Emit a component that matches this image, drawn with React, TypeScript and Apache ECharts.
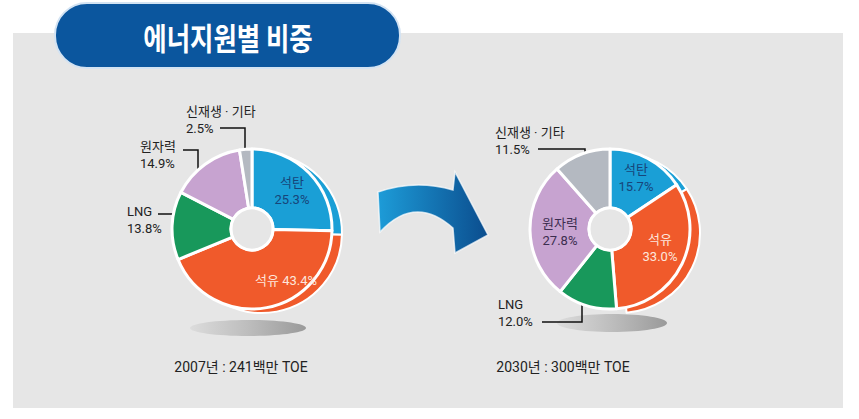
import React, { useEffect, useRef } from 'react';
import * as echarts from 'echarts';

// ---- data ----
const categories = ['석탄', '석유', 'LNG', '원자력', '신재생 · 기타'];
const share2007 = [25.3, 43.4, 13.8, 14.9, 2.5];
const share2030 = [15.7, 33.0, 12.0, 27.8, 11.5];
const titleText = '에너지원별 비중';
const captions = ['2007년 : 241백만 TOE', '2030년 : 300백만 TOE'];

// ---- styles / layout ----
const sliceColors = ['#1a9fd6', '#f05a2b', '#18985b', '#c7a3d0', '#b4b9c1'];
const BG = '#e6e6e6';
const FONT = 'Roboto, "Noto Sans CJK KR", sans-serif';
const R = 80;
const HOLE = 21;
const leftCenter = [252, 229];
const rightCenter = [610, 229];
const extrude = [10, 4];

type Pos = { x: number; y: number; align: string; line?: number[][] };
const leftLabels: Pos[] = [
  { x: 292, y: 191, align: 'center' },
  { x: 286, y: 280, align: 'center' },
  { x: 127, y: 220, align: 'left', line: [[158, 214], [190, 214]] },
  { x: 140, y: 155, align: 'left', line: [[183, 150], [198, 150], [198, 181]] },
  { x: 186, y: 120, align: 'left', line: [[220, 128], [245, 128], [245, 152]] },
];
const rightLabels: Pos[] = [
  { x: 636, y: 178, align: 'center' },
  { x: 660, y: 248, align: 'center' },
  { x: 498, y: 313, align: 'left', line: [[542, 322], [582, 322], [582, 300]] },
  { x: 560, y: 232, align: 'center' },
  { x: 495, y: 141, align: 'left', line: [[538, 149], [585, 149], [585, 164]] },
];
const insideColors: Record<number, string> = { 0: '#17457a', 1: '#fde6dc', 3: '#3b2d4f' };

const arrowPath =
  'M378,192 Q415,179 453,190 L455,172 L488,235 L455,253 L453,228 Q415,194 380,232 Z';
echarts.graphic.registerShape('arrowShape', echarts.graphic.extendPath(arrowPath, {}));

function makeMain(vals: number[], insideIdx: number[], pos: Pos[], oneLineIdx: number[], center: number[]) {
  return {
    type: 'pie',
    z: 3,
    center,
    radius: [HOLE, R],
    startAngle: 90,
    clockwise: true,
    avoidLabelOverlap: false,
    itemStyle: { borderColor: '#ffffff', borderWidth: 3 },
    label: {
      fontFamily: FONT,
      fontSize: 13,
      lineHeight: 17,
      color: '#222',
      formatter: (p: any) =>
        oneLineIdx.includes(p.dataIndex)
          ? `${p.name} ${p.value.toFixed(1)}%`
          : `${p.name}\n${p.value.toFixed(1)}%`,
    },
    labelLine: { show: true, lineStyle: { color: '#111', width: 1.5 } },
    labelLayout: (params: any) => {
      const p = pos[params.dataIndex];
      const o: any = { x: p.x, y: p.y, align: p.align, verticalAlign: 'middle' };
      if (p.line) o.labelLinePoints = p.line;
      return o;
    },
    emphasis: { disabled: true },
    data: vals.map((v, i) => {
      const inside = insideIdx.includes(i);
      return {
        value: v,
        name: categories[i],
        itemStyle: { color: sliceColors[i] },
        label: inside
          ? { position: 'inside', color: insideColors[i] }
          : { position: 'outside', color: '#222' },
        labelLine: { show: !inside },
      };
    }),
  };
}

function makeBack(vals: number[], center: number[]) {
  return {
    type: 'pie',
    z: 2,
    silent: true,
    center: [center[0] + extrude[0], center[1] + extrude[1]],
    radius: [HOLE, R],
    startAngle: 90,
    clockwise: true,
    label: { show: false },
    labelLine: { show: false },
    emphasis: { disabled: true },
    data: vals.map((v, i) => ({
      value: v,
      name: categories[i],
      itemStyle:
        i < 2
          ? { color: sliceColors[i], borderColor: '#ffffff', borderWidth: 2 }
          : { color: 'rgba(0,0,0,0)', borderWidth: 0 },
    })),
  };
}

export default function App() {
  const ref = useRef<HTMLDivElement>(null);
  useEffect(() => {
    document.body.style.margin = '0';
    if (!ref.current) return;
    const chart = echarts.init(ref.current, null, { renderer: 'svg' });
    const shadow = (cx: number, cy: number, rx: number, ry: number) => ({
      type: 'ellipse',
      z: 1,
      shape: { cx, cy, rx, ry },
      style: {
        fill: {
          type: 'linear', x: 0, y: 0, x2: 1, y2: 0,
          colorStops: [
            { offset: 0, color: '#dcdcdc' },
            { offset: 0.5, color: '#bdbdbd' },
            { offset: 1, color: '#9a9a9a' },
          ],
        },
      },
    });
    const hole = (c: number[]) => ({
      type: 'circle',
      z: 100,
      shape: { cx: c[0], cy: c[1], r: HOLE },
      style: { fill: BG, stroke: '#ffffff', lineWidth: 3 },
    });
    chart.setOption({
      animation: false,
      backgroundColor: '#ffffff',
      graphic: [
        { type: 'rect', z: -1, shape: { x: 13, y: 33, width: 830, height: 375 }, style: { fill: BG } },
        {
          type: 'rect', z: 50,
          shape: { x: 55, y: 3, width: 345, height: 65, r: 32 },
          style: { fill: '#0b569e', stroke: '#d3e3f3', lineWidth: 2 },
        },
        {
          type: 'text', z: 51, x: 228, y: 36, scaleX: 0.82,
          style: {
            text: titleText, fill: '#ffffff', fontSize: 31, fontWeight: 'bold',
            fontFamily: '"Noto Sans CJK KR", sans-serif', align: 'center', verticalAlign: 'middle',
          },
        },
        shadow(248, 328, 58, 8),
        shadow(612, 323, 55, 9),
        {
          type: 'arrowShape', z: 5, x: 0, y: 0,
          style: {
            fill: {
              type: 'linear', x: 0, y: 0, x2: 1, y2: 0,
              colorStops: [
                { offset: 0, color: '#1d9cd8' },
                { offset: 1, color: '#0b4d8e' },
              ],
            },
            stroke: 'rgba(255,255,255,0.7)', lineWidth: 1.5,
          },
        },
        hole(leftCenter),
        hole(rightCenter),
        {
          type: 'text', z: 10, x: 241, y: 367,
          style: { text: captions[0], fill: '#222', fontSize: 14, fontFamily: FONT, align: 'center', verticalAlign: 'middle' },
        },
        {
          type: 'text', z: 10, x: 563, y: 367,
          style: { text: captions[1], fill: '#222', fontSize: 14, fontFamily: FONT, align: 'center', verticalAlign: 'middle' },
        },
      ],
      series: [
        makeBack(share2007, leftCenter),
        makeBack(share2030, rightCenter),
        makeMain(share2007, [0, 1], leftLabels, [1], leftCenter),
        makeMain(share2030, [0, 1, 3], rightLabels, [], rightCenter),
      ],
    });
    return () => chart.dispose();
  }, []);
  return <div ref={ref} style={{ width: 859, height: 419 }} />;
}
